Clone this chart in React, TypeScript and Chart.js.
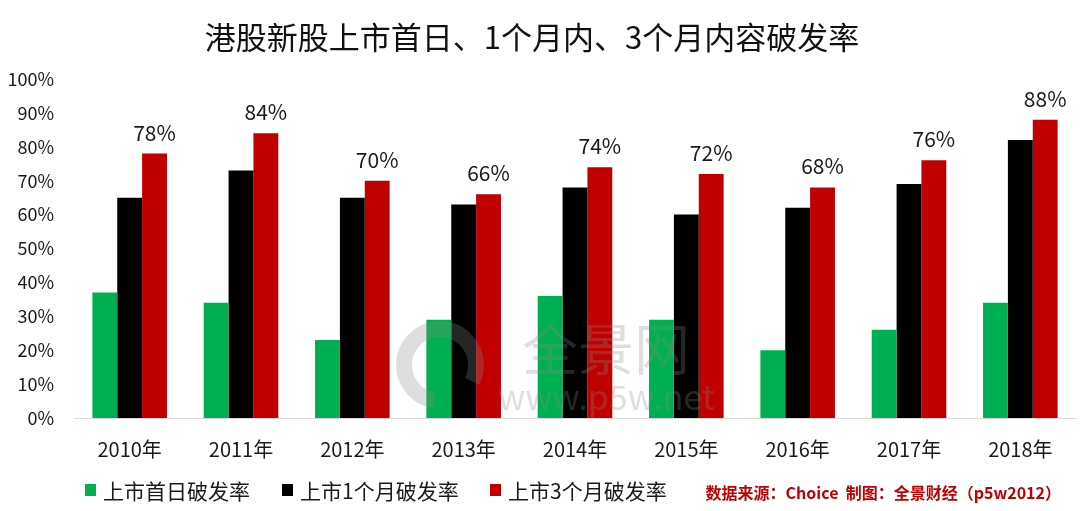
import React, { useEffect, useRef } from "react";
import { Chart, registerables } from "chart.js";

Chart.register(...registerables);

const years = ["2010年", "2011年", "2012年", "2013年", "2014年", "2015年", "2016年", "2017年", "2018年"];
const firstDay = [37, 34, 23, 29, 36, 29, 20, 26, 34];
const oneMonth = [65, 73, 65, 63, 68, 60, 62, 69, 82];
const threeMonth = [78, 84, 70, 66, 74, 72, 68, 76, 88];
const seriesNames = ["上市首日破发率", "上市1个月破发率", "上市3个月破发率"];
const seriesColors = ["#00b050", "#000000", "#c00000"];
const yTicks = [0, 10, 20, 30, 40, 50, 60, 70, 80, 90, 100];
const titleText = "港股新股上市首日、1个月内、3个月内容破发率";
const sourceText = "数据来源：Choice  制图：全景财经（p5w2012）";

const FONT = "'Noto Sans CJK SC', 'Noto Sans', sans-serif";
const legendStarts = [85, 282, 490];

const overlayPlugin = {
  id: "overlay",
  afterDatasetsDraw(chart: any) {
    const ctx = chart.ctx;
    ctx.save();
    // data labels on the 3-month series
    const meta = chart.getDatasetMeta(2);
    ctx.font = `21px ${FONT}`;
    ctx.fillStyle = "#1a1a1a";
    ctx.textAlign = "center";
    ctx.textBaseline = "alphabetic";
    meta.data.forEach((el: any, i: number) => {
      ctx.fillText(threeMonth[i] + "%", el.x, el.y - 13);
    });

    // watermark
    ctx.globalAlpha = 0.28;
    ctx.strokeStyle = "#8a8a8a";
    ctx.lineWidth = 16;
    ctx.beginPath();
    ctx.arc(440, 365, 36, Math.PI * 0.55, Math.PI * 2.15);
    ctx.stroke();
    ctx.fillStyle = "#8a8a8a";
    ctx.textAlign = "left";
    ctx.font = `56px ${FONT}`;
    ctx.fillText("全景网", 522, 370);
    ctx.font = `34px ${FONT}`;
    ctx.fillText("www.p5w.net", 498, 410);
    ctx.globalAlpha = 1;
    ctx.restore();
  },
  afterDraw(chart: any) {
    const ctx = chart.ctx;
    ctx.save();
    // title
    ctx.font = `31px ${FONT}`;
    ctx.fillStyle = "#111111";
    ctx.textAlign = "center";
    ctx.textBaseline = "middle";
    ctx.fillText(titleText, 532, 37);

    // legend
    ctx.font = `21px ${FONT}`;
    ctx.textAlign = "left";
    const y = 490;
    chart.data.datasets.forEach((ds: any, i: number) => {
      const x = legendStarts[i];
      ctx.fillStyle = ds.backgroundColor;
      ctx.fillRect(x, y - 6, 11, 12);
      ctx.fillStyle = "#1a1a1a";
      ctx.fillText(ds.label, x + 18, y + 1);
    });

    // source
    ctx.font = `bold 16px ${FONT}`;
    ctx.fillStyle = "#c00000";
    ctx.textAlign = "right";
    ctx.fillText(sourceText, 1061, 493);
    ctx.restore();
  },
};

export default function App() {
  const ref = useRef<HTMLCanvasElement>(null);
  useEffect(() => {
    document.body.style.margin = "0";
    const chart = new Chart(ref.current as HTMLCanvasElement, {
      type: "bar",
      data: {
        labels: years,
        datasets: [firstDay, oneMonth, threeMonth].map((d, i) => ({
          label: seriesNames[i],
          data: d,
          backgroundColor: seriesColors[i],
          borderWidth: 0,
          categoryPercentage: 0.67,
          barPercentage: 1,
        })),
      },
      options: {
        animation: false,
        responsive: false,
        devicePixelRatio: 1,
        layout: { padding: { top: 79, right: 4, left: 0, bottom: 0 } },
        plugins: { legend: { display: false }, title: { display: false }, tooltip: { enabled: false } },
        scales: {
          x: {
            grid: { display: false, drawTicks: false },
            border: { display: true, color: "#d9d9d9", width: 1 },
            ticks: { font: { size: 20, family: FONT }, color: "#1a1a1a", padding: 19, maxRotation: 0 },
            afterFit: (s: any) => { s.height = 93; },
          },
          y: {
            min: 0,
            max: 100,
            afterBuildTicks: (s: any) => { s.ticks = yTicks.map((v) => ({ value: v })); },
            grid: { display: false, drawTicks: false },
            border: { display: false },
            ticks: {
              font: { size: 18, family: FONT },
              color: "#1a1a1a",
              padding: 20,
              callback: (v: any) => v + "%",
            },
            afterFit: (s: any) => { s.width = 74; },
          },
        },
      },
      plugins: [overlayPlugin],
    });
    return () => chart.destroy();
  }, []);
  return <canvas ref={ref} width={1080} height={511} style={{ display: "block" }} />;
}
